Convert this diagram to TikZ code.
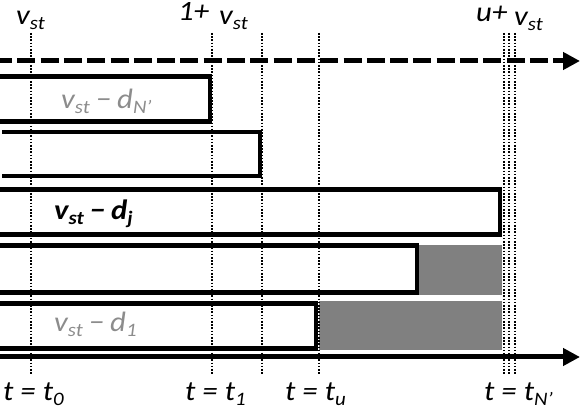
\documentclass[tikz,border=0pt]{standalone}
\usepackage{fontspec}
\setmainfont{Carlito}[FakeStretch=1.1]
\usetikzlibrary{arrows.meta}
\definecolor{fillgray}{RGB}{128,128,128}
\definecolor{txtgray}{RGB}{140,140,140}
\newcommand\sbs[1]{\raisebox{-5pt}{\fontsize{19}{19}\selectfont #1}}
\newcommand\mns{\hspace{6pt}−\hspace{6pt}}
\begin{document}
\begin{tikzpicture}[x=1pt,y=-1pt,
  bar/.style={line width=4.6pt, line join=miter},
  guide/.style={line width=1.6pt, dash pattern=on 1.6pt off 1.6pt},
  axis/.style={line width=5pt, -{Triangle[length=17pt,width=17pt]}},
  lbl/.style={font=\fontsize{28}{30}\selectfont\itshape, inner sep=0pt, anchor=base west},
]
\useasboundingbox (0,0) rectangle (581,411);
\clip (0,0) rectangle (581,411);
% gray fills
\fill[fillgray] (419,245) rectangle (502,295);
\fill[fillgray] (319,301) rectangle (502,350);
% guides
\foreach \x/\n in {31/g0,212/g1,262/g2,319/gu,504/ga,509/gb,515/gc}{
  \coordinate (\n top) at (\x,33);
  \coordinate (\n bot) at (\x,375);
  \draw[guide] (\n top) -- (\n bot);
}
% boxes
\draw[bar] (-5,76.5) -- (210,76.5) -- (210,121.5) -- (-5,121.5);
\draw[bar] (2,132) -- (260,132) -- (260,176) -- (2,176);
\draw[bar] (-5,189.5) -- (500,189.5) -- (500,234.5) -- (-5,234.5);
\draw[bar] (-5,245.5) -- (417,245.5) -- (417,292.5) -- (-5,292.5);
\draw[bar] (-5,303.5) -- (316,303.5) -- (316,348.5) -- (-5,348.5);
% axes
\coordinate (da0) at (-6,61);
\coordinate (da1) at (580,61);
\draw[axis, dash pattern=on 18pt off 5.3pt] (da0) -- (da1);
\coordinate (sa0) at (-5,357);
\coordinate (sa1) at (580,357);
\draw[axis] (sa0) -- (sa1);
% top labels
\node[lbl] (l0) at (16,25) {v\sbs{st}};
\node[lbl] (l1a) at (178,21) {1+};
\node[lbl] (l1b) at (219,25) {v\sbs{st}};
\node[lbl] (lua) at (476,22) {u+};
\node[lbl] (lub) at (514,26) {v\sbs{st}};
% bottom labels
\node[lbl] (t0) at (3,401) {t = t\sbs{0}};
\node[lbl] (t1) at (185,401) {t = t\sbs{1}};
\node[lbl] (tu) at (285,401) {t = t\sbs{u}};
\node[lbl] (tn) at (484,401) {t = t\sbs{N’}};
% bar labels
\node[lbl, text=txtgray] (bN) at (61,109) {v\sbs{st}\mns d\sbs{N’}};
\node[lbl, font=\fontsize{28}{30}\selectfont\itshape\bfseries] (bj) at (54,220) {v\sbs{st}\mns d\sbs{j}};
\node[lbl, text=txtgray] (b1) at (54,332) {v\sbs{st}\mns d\sbs{1}};
\end{tikzpicture}
\end{document}
